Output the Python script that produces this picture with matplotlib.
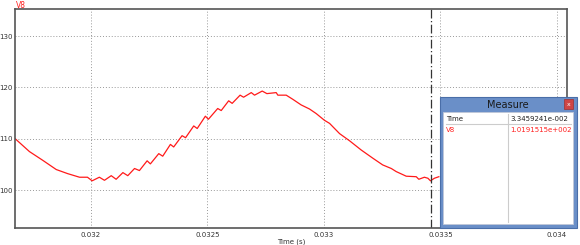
import matplotlib
matplotlib.use("Agg")
import matplotlib.pyplot as plt
from matplotlib.patches import Rectangle

# V8 trace (time in s, volts)
time_s = [0.031675, 0.031736, 0.031793, 0.031851, 0.031900, 0.031951, 0.031985,
          0.032005, 0.032036, 0.032058, 0.032087, 0.032108, 0.032137, 0.032158,
          0.032187, 0.032208, 0.032241, 0.032255, 0.032291, 0.032308, 0.032341,
          0.032355, 0.032391, 0.032406, 0.032441, 0.032456, 0.032491, 0.032504,
          0.032544, 0.032559, 0.032591, 0.032606, 0.032640, 0.032655, 0.032688,
          0.032702, 0.032735, 0.032755, 0.032795, 0.032802, 0.032838, 0.032866,
          0.032902, 0.032938, 0.032967, 0.033002, 0.033024, 0.033067, 0.033110,
          0.033160, 0.033210, 0.033252, 0.033289, 0.033310, 0.033353, 0.033396,
          0.033407, 0.033431, 0.033446, 0.033457, 0.033474, 0.033493]
v8 = [110.0, 107.5, 105.8, 104.0, 103.2, 102.5, 102.5,
      101.8, 102.5, 101.9, 102.8, 102.1, 103.4, 102.8,
      104.2, 103.8, 105.7, 105.1, 107.1, 106.6, 108.9,
      108.4, 110.6, 110.2, 112.5, 112.0, 114.4, 113.8,
      115.9, 115.5, 117.4, 116.9, 118.5, 118.1, 119.0,
      118.5, 119.3, 118.8, 119.0, 118.5, 118.5, 117.7,
      116.6, 115.8, 114.9, 113.6, 113.0, 111.0, 109.6,
      107.8, 106.2, 104.9, 104.2, 103.6, 102.7, 102.6,
      102.1, 102.5, 102.3, 101.8, 102.3, 102.6]

x_ticks = [0.032, 0.0325, 0.033, 0.0335, 0.034]
x_labels = ["0.032", "0.0325", "0.033", "0.0335", "0.034"]
y_ticks = [100, 110, 120, 130]
cursor_t = 0.033459241
measure_rows = [("Time", "3.3459241e-002", "#222222"),
                ("V8", "1.0191515e+002", "#ff2020")]

fig = plt.figure(figsize=(5.8, 2.45), dpi=100)
ax = fig.add_axes([15 / 580, 17 / 245, 552 / 580, 219 / 245])

ax.plot(time_s, v8, color="#ff1a1a", lw=0.9)
ax.axvline(cursor_t, color="#333333", lw=0.9, linestyle=(0, (7, 2, 1, 2)))

ax.set_xlim(0.031674, 0.034043)
ax.set_ylim(92.6, 135.3)
ax.set_xticks(x_ticks)
ax.set_xticklabels(x_labels)
ax.set_yticks(y_ticks)
ax.tick_params(length=0, labelsize=5, colors="#333333")
ax.tick_params(axis="y", pad=1.5)
ax.tick_params(axis="x", pad=3)
ax.grid(True, color="#999999", lw=0.7, linestyle=(0, (1, 2)))
for s in ax.spines.values():
    s.set_color("#555555")
    s.set_linewidth(1.2)
ax.set_xlabel("Time (s)", fontsize=5, color="#333333", labelpad=0.5)
fig.text(16 / 580, 1 - 5 / 245, "V8", color="#ff2020", fontsize=5.5, va="center")

# Measure window drawn on top, in pixel coordinates
ov = fig.add_axes([0, 0, 1, 1], zorder=10)
ov.set_xlim(0, 580)
ov.set_ylim(245, 0)
ov.axis("off")
ov.add_patch(Rectangle((440, 97), 137, 131, facecolor="#6a8fc8", edgecolor="#4a6ea8", lw=0.8))
ov.add_patch(Rectangle((443, 112), 130, 112, facecolor="white", edgecolor="#c0c8d8", lw=0.6))
ov.text(508, 104.5, "Measure", fontsize=7, color="#1a1a1a", ha="center", va="center")
ov.add_patch(Rectangle((564, 99), 9, 10, facecolor="#cf4545", edgecolor="#a03030", lw=0.5))
ov.text(568.5, 104, "x", fontsize=4.5, color="white", ha="center", va="center")
ov.plot([446, 571], [123.5, 123.5], color="#cccccc", lw=0.8)
ov.plot([508, 508], [114, 222], color="#cccccc", lw=0.8)
for i, (name, val, col) in enumerate(measure_rows):
    y = 119 + i * 11
    ov.text(446, y, name, fontsize=5, color=col, va="center")
    ov.text(510, y, val, fontsize=5, color=col, va="center")

fig.savefig("out.png", dpi=100)
